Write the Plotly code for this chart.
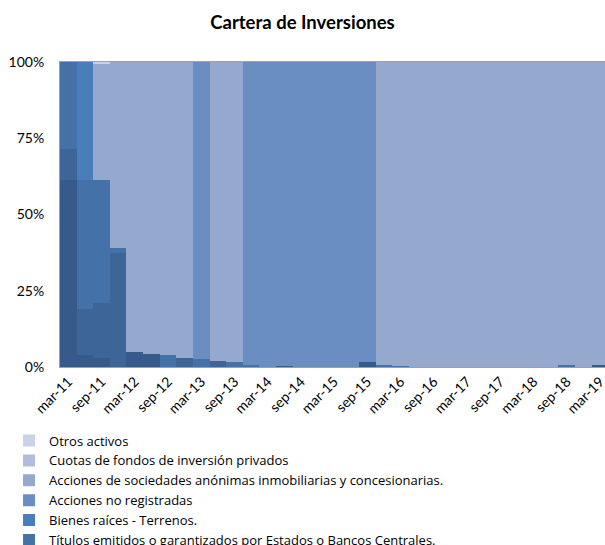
import plotly.graph_objects as go

# Quarterly categories (mar-11 ... mar-19)
years = list(range(11, 20))
months = ["mar", "jun", "sep", "dic"]
categories = [f"{m}-{y}" for y in years for m in months][:33]
tick_labels = categories[::2]

y_tick_vals = [0, 25, 50, 75, 100]
y_tick_text = ["0%", "25%", "50%", "75%", "100%"]

n = len(categories)

def series(pairs):
    vals = [0.0] * n
    for i, v in pairs.items():
        vals[i] = v
    return vals

# Percent shares (stack order bottom -> top)
serie_oculta_1 = series({0: 61.2, 1: 4.1, 2: 3.0, 4: 5.0, 5: 4.2, 13: 0.4, 18: 1.5, 32: 0.5})
serie_oculta_2 = series({0: 10.2, 1: 14.8, 2: 17.9, 3: 37.3, 7: 3.0, 9: 1.9})
titulos = series({0: 28.6, 1: 42.3, 2: 40.3, 3: 1.6, 6: 3.8, 8: 2.6, 10: 1.6, 11: 0.8,
                  19: 0.5, 20: 0.3, 30: 0.5})
bienes_raices = series({1: 38.8})
acciones_no_reg = series({8: 97.4, 11: 99.2, 12: 100, 13: 99.6, 14: 100, 15: 100,
                          16: 100, 17: 100, 18: 98.5})
acciones_soc = series({2: 38.1, 3: 61.1, 4: 95.0, 5: 95.8, 6: 96.2, 7: 97.0, 9: 98.1,
                       10: 98.4, 19: 99.5, 20: 99.7, 21: 100, 22: 100, 23: 100, 24: 100,
                       25: 100, 26: 100, 27: 100, 28: 100, 29: 100, 30: 99.5, 31: 100,
                       32: 99.5})
cuotas = series({})
otros = series({2: 0.7})

traces = [
    ("Serie 1", serie_oculta_1, "#365B8A", False),
    ("Serie 2", serie_oculta_2, "#3D6597", False),
    ("Títulos emitidos o garantizados por Estados o Bancos Centrales.", titulos, "#4472A8", True),
    ("Bienes raíces - Terrenos.", bienes_raices, "#4A7EBB", True),
    ("Acciones no registradas", acciones_no_reg, "#6A8EC1", True),
    ("Acciones de sociedades anónimas inmobiliarias y concesionarias.", acciones_soc, "#95A9CF", True),
    ("Cuotas de fondos de inversión privados", cuotas, "#B0BDDD", True),
    ("Otros activos", otros, "#C9D2E8", True),
]

fig = go.Figure()
for name, vals, color, show in traces:
    fig.add_trace(go.Bar(
        x=categories, y=vals, name=name, showlegend=show,
        marker=dict(color=color, line=dict(width=0)),
    ))

font_family = "Lato, 'Open Sans', sans-serif"

fig.update_layout(
    width=605, height=545,
    margin=dict(l=60, r=0, t=62, b=178, autoexpand=False),
    barmode="stack", barnorm="percent", bargap=0,
    paper_bgcolor="white", plot_bgcolor="white",
    font=dict(family=font_family, size=13, color="#000000"),
    title=dict(text="<b>Cartera de Inversiones</b>", x=0.5, xanchor="center",
               y=1 - 23 / 545, yanchor="middle", font=dict(size=18.5, color="#000000")),
    xaxis=dict(
        type="category", range=[-0.5, 32.3], automargin=False,
        tickmode="array", tickvals=tick_labels, ticktext=tick_labels,
        tickangle=-45, ticks="", showgrid=False,
        showline=True, linecolor="#A0A0A0", linewidth=1, mirror=True,
        tickfont=dict(size=14),
    ),
    yaxis=dict(
        range=[0, 100], tickmode="array", tickvals=y_tick_vals, ticktext=y_tick_text,
        showgrid=False, zeroline=False, ticks="", automargin=False,
        showline=True, linecolor="#A0A0A0", linewidth=1,
        ticklabelstandoff=12, tickfont=dict(size=14),
    ),
    legend=dict(
        orientation="v", traceorder="reversed",
        x=-0.0935, xanchor="left", y=-0.192, yanchor="top",
        font=dict(size=13, family="'Open Sans', Lato, sans-serif"),
        itemclick=False, tracegroupgap=0,
        bgcolor="rgba(0,0,0,0)",
    ),
)

fig.write_html(
    "out.html",
    config={"displayModeBar": False},
    post_script="document.body.style.margin='0px';document.body.style.overflow='hidden';",
)
